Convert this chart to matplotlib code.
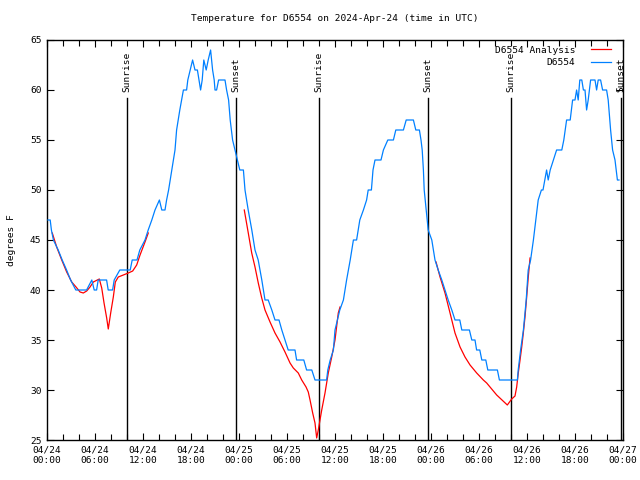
import numpy as np
import matplotlib
matplotlib.use("Agg")
import matplotlib.pyplot as plt
from matplotlib.ticker import FixedLocator, MultipleLocator

plt.rcParams["font.family"] = ["DejaVu Sans Mono"]
plt.rcParams["font.size"] = 6.8

# hours since 04/24 00:00 UTC
obs_hours = [0.12, 0.4, 0.55, 0.8, 1.4, 1.9, 2.45, 2.95, 3.6, 4.95, 5.6, 5.9, 6.2, 6.4, 7.45, 7.65, 8.2, 8.4,
             9.1, 10.4, 10.65, 11.25, 11.6, 12.25, 12.65, 13.1, 13.5, 14.05, 14.35, 14.75, 14.95, 15.2, 15.4,
             15.6, 15.8, 16.0, 16.2, 16.4, 16.6, 17.05, 17.45, 17.6, 17.9, 18.2, 18.5, 18.8, 19.0, 19.2, 19.4,
             19.6, 19.9, 20.15, 20.45, 20.7, 20.9, 21.0, 21.2, 21.45, 22.25, 22.45, 22.7, 22.9, 23.2, 23.5,
             24.1, 24.55, 24.75, 25.15, 25.6, 26.0, 26.4, 26.85, 27.25, 27.65, 28.1, 28.5, 29.0, 29.35, 29.75,
             30.15, 31.0, 31.2, 32.1, 32.45, 33.1, 33.5, 34.95, 35.1, 35.4, 35.8, 36.0, 36.6, 37.05, 37.45,
             37.9, 38.3, 38.7, 39.1, 39.55, 39.95, 40.15, 40.55, 40.75, 41.0, 41.75, 42.05, 42.6, 43.3, 43.6,
             44.55, 44.9, 45.8, 46.1, 46.55, 46.75, 46.9, 47.05, 47.15, 47.4, 47.65, 48.1, 48.5, 48.9, 49.35,
             49.75, 50.15, 50.6, 51.0, 51.6, 51.85, 52.8, 53.1, 53.5, 53.7, 54.1, 54.35, 54.85, 55.1, 56.3,
             56.55, 58.8, 58.9, 59.2, 59.55, 59.9, 60.15, 60.45, 60.8, 61.1, 61.4, 61.8, 62.0, 62.45, 62.65,
             62.9, 63.3, 63.7, 64.35, 64.6, 64.95, 65.4, 65.7, 66.0, 66.2, 66.4, 66.6, 66.85, 67.05, 67.25,
             67.45, 67.65, 67.95, 68.5, 68.7, 68.9, 69.2, 69.45, 69.95, 70.15, 70.45, 70.7, 71.0, 71.3, 71.5]
obs_temp = [47, 47, 46, 45, 44, 43, 42, 41, 40, 40, 41, 40, 40, 41, 41, 40, 40, 41,
            42, 42, 43, 43, 44, 45, 46, 47, 48, 49, 48, 48, 49, 50, 51,
            52, 53, 54, 56, 57, 58, 60, 60, 61, 62, 63, 62, 62, 61, 60, 61,
            63, 62, 63, 64, 62, 61, 60, 60, 61, 61, 60, 59, 57, 55, 54,
            52, 52, 50, 48, 46, 44, 43, 41, 39, 39, 38, 37, 37, 36, 35,
            34, 34, 33, 33, 32, 32, 31, 31, 32, 33, 34, 36, 38, 39, 41,
            43, 45, 45, 47, 48, 49, 50, 50, 52, 53, 53, 54, 55, 55, 56,
            56, 57, 57, 56, 56, 55, 54, 52, 50, 48, 46, 45, 43, 42, 41,
            40, 39, 38, 37, 37, 36, 36, 35, 35, 34, 34, 33, 33, 32, 32,
            31, 31, 32, 34, 36, 39, 42, 43, 45, 47, 49, 50, 50, 52, 51,
            52, 53, 54, 54, 55, 57, 57, 59, 59, 60, 59, 61, 61, 60, 60,
            58, 59, 61, 61, 60, 61, 61, 60, 60, 59, 56, 54, 53, 51, 51]

# analysis runs, nan marks the gaps
ana_hours = [0.66, 1.21, 1.84, 2.46, 3.09, 3.63, 4.13, 4.54, 4.96, 5.38, 5.79, 6.54, 6.84, 7.13, 7.46, 7.66,
             7.96, 8.29, 8.54, 8.91, 9.54, 10.16, 10.71, 11.21, 11.63, 12.25, 12.66, np.nan,
             24.66, 25.16, 25.59, 26.0, 26.41, 26.84, 27.25, 27.88, 28.5, 29.13, 29.75, 30.38, 30.79, 31.41,
             31.84, 32.38, 32.66, 32.88, 33.21, 33.5, 33.71, 33.91, 34.34, 34.75, 35.16, 35.59, 36.0, 36.41,
             36.63, np.nan,
             48.63, 49.13, 49.75, 50.38, 51.0, 51.63, 52.25, 52.88, 53.71, 54.54, 54.96, 56.21, 57.54, 58.09,
             58.5, 58.71, 58.91, 59.13, 59.34, 59.54, 59.75, 59.96, 60.16, 60.38]
ana_temp = [45.7, 44.3, 43, 41.8, 40.8, 40.3, 39.8, 39.7, 39.9, 40.3, 40.8, 41.1, 40.2, 38.7, 37.2, 36.1,
            37.7, 39.3, 40.8, 41.3, 41.5, 41.7, 41.9, 42.5, 43.5, 44.8, 45.7, np.nan,
            48, 45.7, 43.7, 42.3, 40.7, 39.2, 38, 36.8, 35.7, 34.8, 33.8, 32.7, 32.2, 31.7,
            31, 30.3, 29.8, 29, 27.7, 26.7, 25.2, 26, 28, 29.7, 31.7, 33.3, 35, 37.7,
            38.3, np.nan,
            42.8, 41.3, 39.7, 37.7, 35.7, 34.3, 33.3, 32.5, 31.7, 31, 30.7, 29.5, 28.5, 29.1,
            29.4, 30.3, 31.7, 33, 34.3, 35.7, 37.3, 39.3, 41.3, 43.2]

sun_hours = [10.0, 23.6, 34.0, 47.65, 58.0, 71.75]
sun_labels = ["Sunrise", "Sunset", "Sunrise", "Sunset", "Sunrise", "Sunset"]

tick_hours = [0, 6, 12, 18, 24, 30, 36, 42, 48, 54, 60, 66, 72]
tick_labels = ["04/24\n00:00", "04/24\n06:00", "04/24\n12:00", "04/24\n18:00",
               "04/25\n00:00", "04/25\n06:00", "04/25\n12:00", "04/25\n18:00",
               "04/26\n00:00", "04/26\n06:00", "04/26\n12:00", "04/26\n18:00", "04/27\n00:00"]

fig = plt.figure(figsize=(6.4, 4.8), dpi=100)
ax = fig.add_axes([47 / 640, 40 / 480, 576 / 640, 400 / 480])

for h, lab in zip(sun_hours, sun_labels):
    ax.plot([h, h], [25, 59.2], color="black", lw=1.0, zorder=1)
    ax.text(h, 59.8, lab, rotation=90, ha="center", va="bottom", fontsize=6.8)

ax.plot(ana_hours, ana_temp, color="#ff0000", lw=0.9, label="D6554 Analysis", zorder=2)
ax.plot(obs_hours, obs_temp, color="#0080ff", lw=0.9, label="D6554", zorder=3)

ax.set_xlim(0, 72)
ax.set_ylim(25, 65)
ax.xaxis.set_major_locator(FixedLocator(tick_hours))
ax.set_xticklabels(tick_labels)
ax.xaxis.set_minor_locator(MultipleLocator(2))
ax.yaxis.set_major_locator(MultipleLocator(5))
ax.tick_params(which="both", direction="in", top=True, right=True, width=0.8, labelsize=6.8)
ax.tick_params(which="major", length=5, pad=4)
ax.tick_params(which="minor", length=4)
for s in ax.spines.values():
    s.set_linewidth(1.0)

ax.set_ylabel("degrees F", fontsize=6.8, labelpad=10)
ax.set_title("Temperature for D6554 on 2024-Apr-24 (time in UTC)", fontsize=6.8, pad=14)

leg = ax.legend(loc="upper right", bbox_to_anchor=(1 - 6 / 576, 1.0), frameon=False, markerfirst=False,
                handlelength=2.2, fontsize=6.8, borderaxespad=0.2, handletextpad=1.6, labelspacing=0.35)
for t in leg.get_texts():
    t.set_ha("right")

plt.savefig("out.png", dpi=100)
